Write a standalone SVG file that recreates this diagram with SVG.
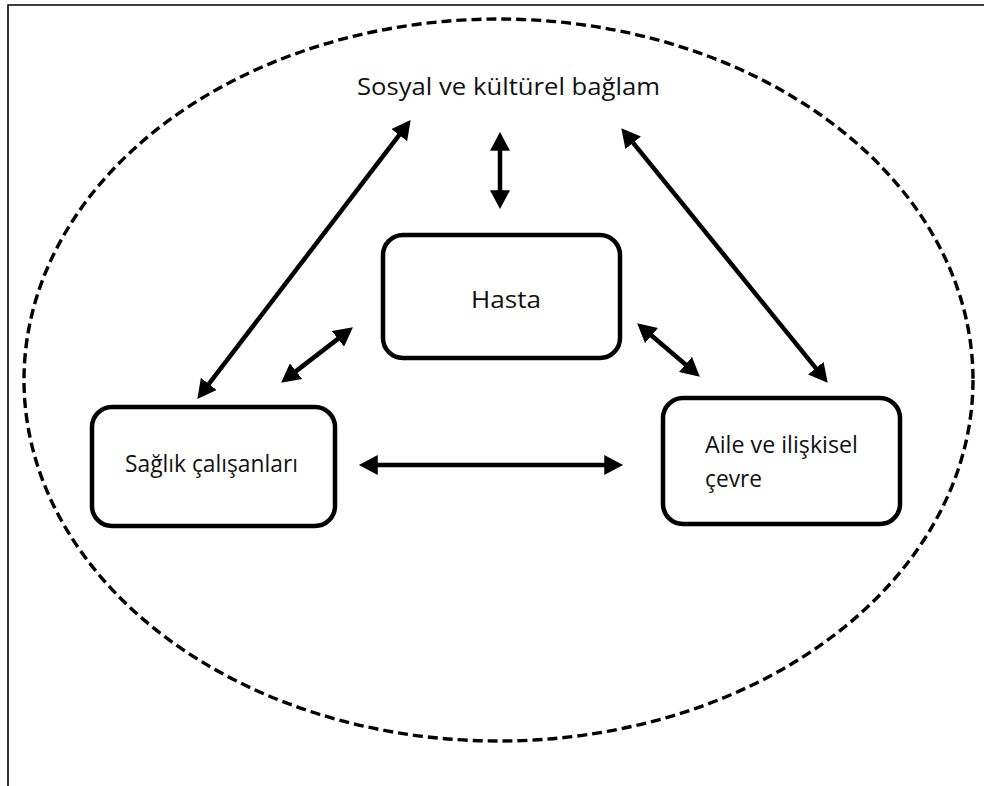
<svg xmlns="http://www.w3.org/2000/svg" width="984" height="786" viewBox="0 0 984 786">
<defs>
<style>
.box{fill:#fff;stroke:#000;stroke-width:4.5}
.lbl{font-family:"Open Sans","Noto Sans","Liberation Sans",sans-serif;font-size:24px;fill:#111}
.conn line{stroke:#000;stroke-width:4.5;marker-start:url(#ah);marker-end:url(#ah)}
</style>
<marker id="ah" markerUnits="userSpaceOnUse" markerWidth="20" markerHeight="20" viewBox="0 0 18 18" refX="7" refY="9" orient="auto-start-reverse">
<path d="M0,0 L17,9 L0,18 z" fill="#000"/>
</marker>
</defs>
<rect width="984" height="786" fill="#fff"/>
<path d="M8,786 V5 H984" fill="none" stroke="#000" stroke-width="1.6"/>
<ellipse cx="498.5" cy="380" rx="474.5" ry="361" fill="none" stroke="#000" stroke-width="3.4" stroke-dasharray="10 5"/>
<g id="context"><text class="lbl" x="357" y="95" textLength="303" lengthAdjust="spacingAndGlyphs">Sosyal ve kültürel bağlam</text></g>
<g id="hasta"><rect class="box" x="383" y="235" width="237" height="123" rx="20"/><text class="lbl" x="471" y="308" textLength="70" lengthAdjust="spacingAndGlyphs">Hasta</text></g>
<g id="saglik"><rect class="box" x="92" y="407" width="243" height="119" rx="20"/><text class="lbl" x="125" y="472" textLength="173" lengthAdjust="spacingAndGlyphs">Sağlık çalışanları</text></g>
<g id="aile"><rect class="box" x="663" y="398" width="237" height="126" rx="20"/><text class="lbl" x="705" y="453" textLength="153" lengthAdjust="spacingAndGlyphs">Aile ve ilişkisel</text><text class="lbl" x="705" y="487" textLength="57" lengthAdjust="spacingAndGlyphs">çevre</text></g>
<g id="connectors" class="conn">
<line x1="403.9" y1="128.9" x2="204.1" y2="390.1"/>
<line x1="500" y1="143" x2="500" y2="198"/>
<line x1="628.3" y1="136.8" x2="820.7" y2="374.2"/>
<line x1="344.1" y1="334.1" x2="289.9" y2="375.9"/>
<line x1="645.6" y1="330.5" x2="691.4" y2="369.5"/>
<line x1="370" y1="465" x2="612" y2="465"/>
</g>
</svg>
